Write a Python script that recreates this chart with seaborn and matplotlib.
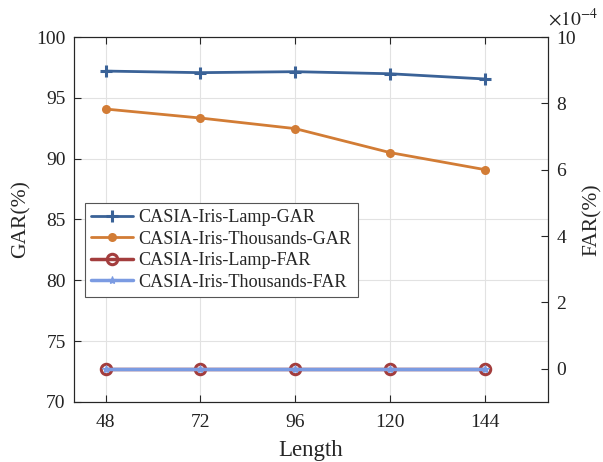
import numpy as np
import pandas as pd
import matplotlib
matplotlib.use("Agg")
import matplotlib.pyplot as plt
import seaborn as sns

# ── data ─────────────────────────────────────────────────────────────────────
lengths = [48, 72, 96, 120, 144]
lamp_gar = [97.2, 97.07, 97.15, 96.98, 96.55]
thousands_gar = [94.08, 93.34, 92.47, 90.5, 89.1]
lamp_far = [0.0, 0.0, 0.0, 0.0, 0.0]         # x 1e-4
thousands_far = [0.0, 0.0, 0.0, 0.0, 0.0]    # x 1e-4

labels = ["CASIA-Iris-Lamp-GAR", "CASIA-Iris-Thousands-GAR",
          "CASIA-Iris-Lamp-FAR", "CASIA-Iris-Thousands-FAR"]
colors = ["#3a6297", "#d27c35", "#a33d3d", "#7b9be2"]

# ── style ────────────────────────────────────────────────────────────────────
sns.set_theme(style="ticks")
plt.rcParams["font.family"] = ["Liberation Serif", "DejaVu Serif"]
plt.rcParams["mathtext.fontset"] = "stix"

fig = plt.figure(figsize=(6.03, 4.62), dpi=100)
ax1 = fig.add_axes([0.1227, 0.1299, 0.7861, 0.79])
ax2 = ax1.twinx()

df = pd.DataFrame({"Length": lengths * 4,
                   "val": lamp_gar + thousands_gar + lamp_far + thousands_far,
                   "series": [s for s in labels for _ in lengths]})

sns.lineplot(data=df[df.series == labels[0]], x="Length", y="val", ax=ax1,
             color=colors[0], lw=2, label=labels[0])
sns.lineplot(data=df[df.series == labels[1]], x="Length", y="val", ax=ax1,
             color=colors[1], lw=2, label=labels[1])
sns.lineplot(data=df[df.series == labels[2]], x="Length", y="val", ax=ax2,
             color=colors[2], lw=2.5, label=labels[2])
sns.lineplot(data=df[df.series == labels[3]], x="Length", y="val", ax=ax2,
             color=colors[3], lw=2.5, label=labels[3])

# marker styling on the drawn lines
l_lamp_gar, l_th_gar = ax1.lines[0], ax1.lines[1]
l_lamp_far, l_th_far = ax2.lines[0], ax2.lines[1]
l_lamp_gar.set(marker="+", markersize=8, markeredgewidth=2.2,
               markeredgecolor=colors[0])
l_th_gar.set(marker="o", markersize=6.5, markeredgewidth=0,
             markerfacecolor=colors[1])
l_lamp_far.set(linestyle="-", marker="o", markersize=7.5,
               markerfacecolor="none", markeredgewidth=2.2,
               markeredgecolor=colors[2])
l_th_far.set(marker="*", markersize=6, markeredgewidth=0.8,
             markerfacecolor=colors[3], markeredgecolor=colors[3])

# ── axes ─────────────────────────────────────────────────────────────────────
ax1.set_xlim(40, 160)
ax1.set_xticks(lengths)
ax1.set_ylim(70, 100)
ax1.set_yticks([70, 75, 80, 85, 90, 95, 100])
ax2.set_ylim(-1, 10)
ax2.set_yticks([0, 2, 4, 6, 8, 10])

ax1.grid(True, color="#e2e2e2", lw=0.8)
ax1.set_axisbelow(True)

ax1.set_xlabel("Length", fontsize=16.5, labelpad=6)
ax1.set_ylabel("GAR(%)", fontsize=15.5, labelpad=4)
ax2.set_ylabel("FAR(%)", fontsize=15.5, labelpad=5)

for ax in (ax1, ax2):
    for s in ax.spines.values():
        s.set_color("#262626")
        s.set_linewidth(0.8)
    ax.tick_params(direction="in", labelsize=14, colors="#262626",
                   length=5, width=0.8, labelcolor="#222222")
ax1.tick_params(axis="x", top=True, pad=9)
ax1.tick_params(axis="y", pad=6)
ax2.tick_params(axis="y", pad=6)

ax2.text(1.0, 1.02, r"$\times10^{-4}$", transform=ax2.transAxes,
         fontsize=14, ha="left", va="bottom", color="#222222")

# ── legend ───────────────────────────────────────────────────────────────────
h1, l1 = ax1.get_legend_handles_labels()
h2, l2 = ax2.get_legend_handles_labels()
ax1.get_legend().remove()
ax2.get_legend().remove()
leg = ax2.legend(h1 + h2, l1 + l2, loc="upper left",
                 bbox_to_anchor=(0.023, 0.545), borderaxespad=0,
                 fontsize=13.1, frameon=True, fancybox=False, framealpha=1,
                 edgecolor="#555555", handlelength=2.3, handletextpad=0.3,
                 labelspacing=0.24, borderpad=0.35)
leg.get_frame().set_linewidth(0.8)

fig.savefig("out.png", dpi=100)
